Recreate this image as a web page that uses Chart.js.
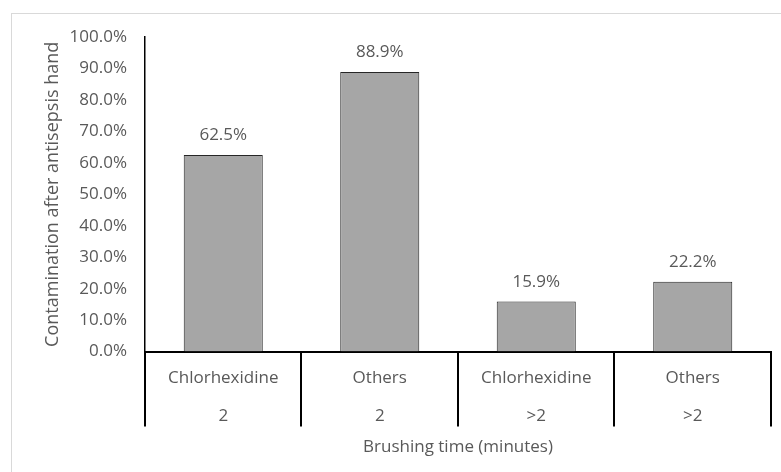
<!DOCTYPE html>
<html>
<head>
<meta charset="utf-8">
<script src="https://cdn.jsdelivr.net/npm/chart.js@4.4.1/dist/chart.umd.min.js"></script>
<style>
  html, body { margin: 0; padding: 0; background: #fff; }
  #wrap { position: relative; width: 781px; height: 472px; overflow: hidden; }
  #frame { position: absolute; left: 11px; top: 13px; width: 800px; height: 500px; border: 1px solid #d9d9d9; box-sizing: border-box; }
  canvas { position: absolute; left: 0; top: 0; }
</style>
</head>
<body>
<div id="wrap">
  <div id="frame"></div>
  <canvas id="c" width="781" height="472"></canvas>
</div>
<script>
const agents = ["Chlorhexidine", "Others", "Chlorhexidine", "Others"];
const brushingTimes = ["2", "2", ">2", ">2"];
const contamination = [62.5, 88.9, 15.9, 22.2];
const yTicks = [0, 10, 20, 30, 40, 50, 60, 70, 80, 90, 100];

const labels = agents.map((a, i) => [a, brushingTimes[i]]);
const FONT = "'Open Sans', sans-serif";
const TXT = '#595959';

const valueLabels = {
  id: 'valueLabels',
  afterDatasetsDraw(chart) {
    const ctx = chart.ctx;
    const meta = chart.getDatasetMeta(0);
    ctx.save();
    ctx.font = "17px " + FONT;
    ctx.fillStyle = TXT;
    ctx.textAlign = 'center';
    ctx.textBaseline = 'bottom';
    meta.data.forEach((bar, i) => {
      ctx.fillText(contamination[i].toFixed(1) + '%', bar.x, bar.y - 11);
    });
    ctx.restore();
  }
};

const categorySeparators = {
  id: 'categorySeparators',
  afterDraw(chart) {
    const xs = chart.scales.x;
    const n = xs.getLabels().length;
    const step = xs.width / n;
    const top = chart.chartArea.bottom;
    const ctx = chart.ctx;
    ctx.save();
    ctx.strokeStyle = '#000';
    ctx.lineWidth = 2;
    for (let k = 0; k <= n; k++) {
      const x = Math.round(xs.left + k * step);
      ctx.beginPath();
      ctx.moveTo(x, top);
      ctx.lineTo(x, top + 75);
      ctx.stroke();
    }
    ctx.restore();
  }
};

new Chart(document.getElementById('c'), {
  type: 'bar',
  data: {
    labels: labels,
    datasets: [{
      data: contamination,
      backgroundColor: '#a6a6a6',
      borderColor: '#262626',
      borderWidth: 1,
      categoryPercentage: 1.0,
      barPercentage: 0.505
    }]
  },
  options: {
    responsive: false,
    animation: false,
    events: [],
    layout: { padding: { left: 42, right: 10, top: 37, bottom: 11 } },
    plugins: { legend: { display: false }, tooltip: { enabled: false } },
    scales: {
      x: {
        grid: { display: false, drawTicks: false },
        border: { display: true, color: '#000', width: 2 },
        ticks: {
          color: TXT,
          font: { family: FONT, size: 17, lineHeight: 2.235 },
          padding: 8,
          maxRotation: 0,
          autoSkip: false
        },
        title: {
          display: true,
          text: 'Brushing time (minutes)',
          color: TXT,
          font: { family: FONT, size: 17 },
          padding: { top: -7, bottom: 4 }
        }
      },
      y: {
        min: 0,
        max: 100,
        afterBuildTicks(scale) { scale.ticks = yTicks.map(v => ({ value: v })); },
        grid: { display: false, drawTicks: false },
        border: { display: true, color: '#000', width: 1.5 },
        ticks: {
          color: TXT,
          font: { family: FONT, size: 17 },
          padding: 18,
          callback: v => Number(v).toFixed(1) + '%'
        },
        title: {
          display: true,
          text: 'Contamination after antisepsis hand',
          color: TXT,
          font: { family: FONT, size: 18 },
          padding: { top: 0, bottom: -12 }
        }
      }
    }
  },
  plugins: [valueLabels, categorySeparators]
});
</script>
</body>
</html>
